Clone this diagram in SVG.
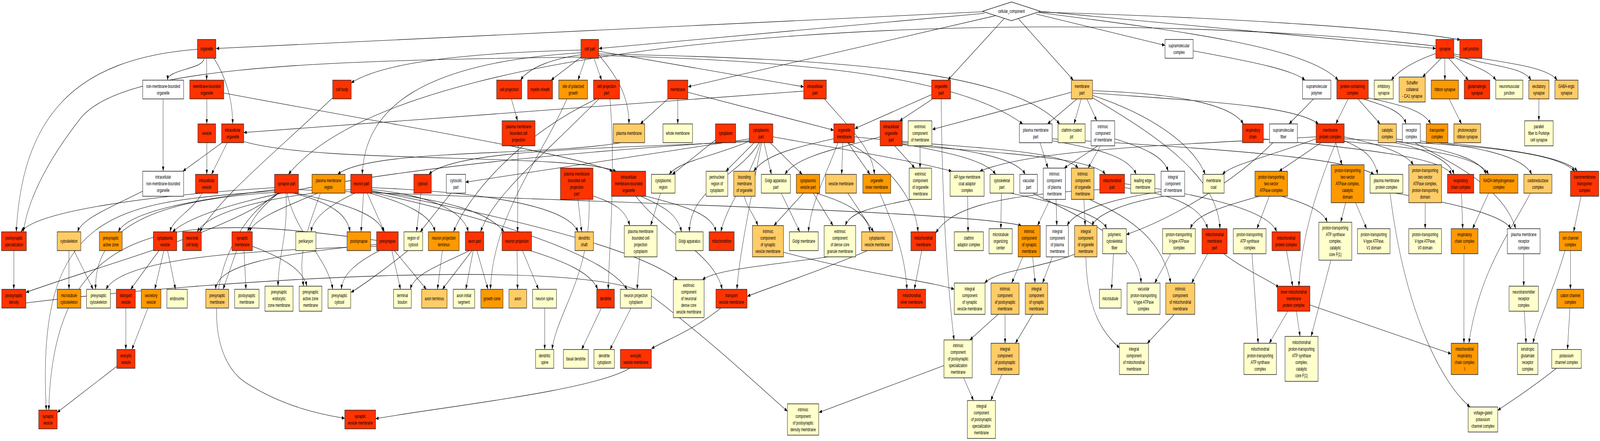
<svg xmlns="http://www.w3.org/2000/svg" width="6492" height="1128" viewBox="0 0 6492 1128" preserveAspectRatio="none" style="display:block;width:100vw;height:100vh">
<defs>
<style>
text{font-family:"Liberation Sans",Arial,sans-serif;font-size:12.5px;text-anchor:middle;fill:#000}
.n rect,.n polygon{stroke:#222;stroke-width:1.5}
.R rect{fill:#ff3300}.O rect{fill:#ff9900}.L rect{fill:#ffcc66}.Y rect{fill:#ffffcc}.W rect,.W polygon{fill:#ffffff}
#edges path{fill:none;stroke:#000;stroke-width:1.1;marker-end:url(#ah)}
</style>
<marker id="ah" viewBox="0 0 12 9" refX="12" refY="4.5" markerWidth="12" markerHeight="9" markerUnits="userSpaceOnUse" orient="auto"><path d="M0,0L12,4.5L0,9z" fill="#000"/></marker>
</defs>
<rect width="6492" height="1128" fill="#fff"/>
<g id="edges">
<path d="M3988,30 L877,124"/>
<path d="M3995,34 L2430,124"/>
<path d="M4040,40 L2792,222"/>
<path d="M4075,47 L3846,205"/>
<path d="M4131,47 L4355,205"/>
<path d="M4205,36 L4727,116"/>
<path d="M4215,32 C4800,80 5300,120 5430,205"/>
<path d="M4222,29 L5826,124"/>
<path d="M4215,31 C5000,45 5700,75 5925,102"/>
<path d="M828,149 C828,177 680,177 680,205"/>
<path d="M838.5,149 L838.5,205"/>
<path d="M868,149 C920,200 944,260 944,317"/>
<path d="M801,126 C300,150 90,300 66,593"/>
<path d="M839,253 L839,317"/>
<path d="M908,238 C1600,320 2300,390 2486,438"/>
<path d="M662,253 L662,438"/>
<path d="M901,365 L742,438"/>
<path d="M922,365 L858,446"/>
<path d="M989,362 C1300,420 2300,390 2500,438"/>
<path d="M3261,233 L989,339"/>
<path d="M839,365 L839,446"/>
<path d="M2357,128 C1900,135 1550,160 1425,212"/>
<path d="M2357,140 C2250,150 2150,170 2112,205"/>
<path d="M2360,145 L2236,205"/>
<path d="M2376,149 L2345,205"/>
<path d="M2410,149 L2441,205"/>
<path d="M2429,131 L3261,222"/>
<path d="M2429,140 C2510,200 2552,250 2552,317"/>
<path d="M2357,135 C1700,160 1480,280 1470,446"/>
<path d="M2357,146 C1200,155 500,175 330,300 C180,420 110,520 95,593"/>
<path d="M2429,142 C3300,155 3900,200 4150,317"/>
<path d="M2429,138 C3400,150 4100,180 4300,317"/>
<path d="M2075,253 L2100,309"/>
<path d="M5826,118 C4500,20 1700,40 1170,446"/>
<path d="M5826,137 C5720,160 5670,185 5645,205"/>
<path d="M5848,149 L5772,197"/>
<path d="M5862.5,149 L5862.5,205"/>
<path d="M5878,149 L5958,205"/>
<path d="M5899,146 C5980,170 6040,180 6070,205"/>
<path d="M5899,142 C6050,170 6180,170 6212,205"/>
<path d="M5899,138 C6100,160 6280,170 6318,205"/>
<path d="M2710,253 L2598,317"/>
<path d="M2750,253 L2750,317"/>
<path d="M2791,236 C3100,285 3300,320 3383,333"/>
<path d="M3780,242 L3468,329"/>
<path d="M3782,254 L3650,309"/>
<path d="M3819,253 C3822,500 3840,700 3871,870"/>
<path d="M4347,236 L3783,331"/>
<path d="M4370,253 L4250,317"/>
<path d="M4387,253 L4358,317"/>
<path d="M4410,253 L4450,309"/>
<path d="M4433,232 C4800,240 5000,270 5045,317"/>
<path d="M4433,238 C4900,260 5250,270 5350,317"/>
<path d="M4433,244 C4700,300 4850,380 4890,446"/>
<path d="M4433,250 C4700,350 4940,450 4950,585"/>
<path d="M4841,130 C5100,160 5250,180 5295,205"/>
<path d="M5330,253 L5230,317"/>
<path d="M5470,253 L5420,317"/>
<path d="M5510,253 L5600,317"/>
<path d="M5530,253 C5620,270 5690,285 5705,317"/>
<path d="M5548,250 C5700,270 5780,285 5805,317"/>
<path d="M5880,253 L5930,317"/>
<path d="M6244,253 L6244,309"/>
<path d="M2520,365 C2200,400 1500,380 1370,446"/>
<path d="M3045,362 C2500,380 1850,380 1740,446"/>
<path d="M3042,355 L1889,466"/>
<path d="M2903,358 L2728,446"/>
<path d="M3045,360 C2900,400 2760,410 2715,446"/>
<path d="M3060,365 L2945,438"/>
<path d="M3100,365 L3130,446"/>
<path d="M3125,365 L3255,446"/>
<path d="M3136,350 C3400,380 3700,410 3862,438"/>
<path d="M3420,365 L3415,446"/>
<path d="M3440,365 L3530,446"/>
<path d="M3383,355 C3200,380 3100,400 3058,438"/>
<path d="M3467,350 C3900,380 4300,380 4375,430"/>
<path d="M3630,373 L3712,430"/>
<path d="M3733,373 L3733,430"/>
<path d="M3661,368 C3850,390 4000,410 4040,446"/>
<path d="M3661,365 C3900,380 4120,400 4160,446"/>
<path d="M3571,350 C3400,380 3230,400 3185,446"/>
<path d="M3661,370 C4000,390 4430,400 4485,446"/>
<path d="M3345,253 C3450,330 3540,380 3548,446"/>
<path d="M4220,365 L4252,430"/>
<path d="M4455,373 L4318,430"/>
<path d="M4465,373 L4415,430"/>
<path d="M4523,355 C4650,380 4720,400 4740,438"/>
<path d="M4269,360 C4450,380 4580,400 4610,446"/>
<path d="M4269,355 C4900,380 5450,400 5575,446"/>
<path d="M5340,355 C5150,400 5000,420 4960,446"/>
<path d="M5360,365 L5190,438"/>
<path d="M5420,365 L5445,421.5"/>
<path d="M5454,360 C5530,380 5575,400 5590,446"/>
<path d="M5454,350 C5600,370 5700,390 5735,421.5"/>
<path d="M5340,350 C4800,370 4200,380 3975,438"/>
<path d="M5454,362 C5800,380 6000,400 6040,446"/>
<path d="M5454,355 C5900,370 6300,380 6390,438"/>
<path d="M5660,365 C5780,380 5880,410 5900,446"/>
<path d="M5126,355 C5500,380 5850,400 5890,446"/>
<path d="M5666,362 C5900,385 6010,410 6030,446"/>
<path d="M5666,356 C6000,370 6180,400 6215,446"/>
<path d="M5860,365 C6100,380 6350,400 6400,438"/>
<path d="M5740,365 C5900,420 6100,480 6150,585"/>
<path d="M579,489 C450,530 330,560 315,593"/>
<path d="M820,494 C780,540 700,560 690,593"/>
<path d="M3040,360 C2000,400 900,480 700,593"/>
<path d="M1114,480 C600,500 150,540 85,593"/>
<path d="M1114,485 C800,510 520,540 480,593"/>
<path d="M1130,494 C1060,530 1020,560 1005,593"/>
<path d="M1290,494 C1150,530 1030,560 1012,593"/>
<path d="M1200,494 C1400,520 1540,550 1555,593"/>
<path d="M1490,494 L1560,593"/>
<path d="M1190,494 C1350,520 1410,550 1420,593"/>
<path d="M1475,494 L1465,593"/>
<path d="M1160,494 C1170,600 1130,650 1128,732"/>
<path d="M1165,494 C1200,600 1330,660 1350,740"/>
<path d="M1130,494 C900,600 400,680 105,748"/>
<path d="M1211,485 C2500,520 3900,540 4145,577"/>
<path d="M1130,494 C850,600 800,900 1000,980 C1150,1040 1300,1060 1399,1070"/>
<path d="M1114,488 C500,520 140,520 188,1049"/>
<path d="M1350,250 C1100,400 900,500 810,593"/>
<path d="M1423,485 C1100,500 850,540 800,593"/>
<path d="M1440,494 C1320,530 1270,560 1262,593"/>
<path d="M1500,494 C1650,520 1750,550 1765,593"/>
<path d="M2420,253 C2100,350 1900,500 1840,593"/>
<path d="M1509,485 C1750,500 1880,540 1900,593"/>
<path d="M2430,253 C2200,400 2000,500 1950,593"/>
<path d="M2102,373 L2100,593"/>
<path d="M1509,490 C1800,510 1980,540 2045,593"/>
<path d="M1708,494 L1690,593"/>
<path d="M1830,494 L1705,593"/>
<path d="M2300,253 C2200,400 2000,550 1990,740"/>
<path d="M2345,510 L2360,593"/>
<path d="M1509,480 C1900,490 2300,520 2345,593"/>
<path d="M2400,500 C2500,520 2540,540 2555,577"/>
<path d="M2680,494 L2640,577"/>
<path d="M2600,502 C2700,530 2750,550 2765,593"/>
<path d="M3080,365 C3000,450 2800,480 2797,593"/>
<path d="M2610,500 C2800,530 2890,550 2905,593"/>
<path d="M3085,365 C3050,450 2950,520 2925,593"/>
<path d="M3260,494 L3140,577"/>
<path d="M3020,502 C3030,530 3060,550 3075,577"/>
<path d="M3170,494 L3245,593"/>
<path d="M3400,365 C3350,450 3290,520 3280,593"/>
<path d="M3700,510 C3550,530 3450,540 3430,577"/>
<path d="M3300,494 L3380,577"/>
<path d="M3310,494 C3450,520 3520,550 3530,593"/>
<path d="M3440,494 L3545,593"/>
<path d="M3440,365 C3600,420 3710,500 3725,593"/>
<path d="M4462,485 C4000,500 3850,540 3797,596"/>
<path d="M3926,502 L3928,593"/>
<path d="M4063,494 L4061,585"/>
<path d="M4260,510 L4210,577"/>
<path d="M4285,510 L4288,577"/>
<path d="M4711,490 C4500,510 4360,540 4330,577"/>
<path d="M4398,510 L4403,577"/>
<path d="M4720,502 C4550,520 4450,550 4430,577"/>
<path d="M4100,494 C4300,520 4470,550 4490,585"/>
<path d="M5165,365 C5000,470 4750,560 4570,600"/>
<path d="M5110,502 C4950,530 4850,550 4830,585"/>
<path d="M4563,480 C4800,500 4880,540 4900,585"/>
<path d="M5150,502 L5100,585"/>
<path d="M4563,470 C4900,500 5150,540 5180,593"/>
<path d="M5460,518.5 L5440,568.5"/>
<path d="M5200,502 C5300,520 5370,540 5385,568.5"/>
<path d="M5500,518 L5545,585"/>
<path d="M5782.5,518.5 L5782.5,585"/>
<path d="M5930,494 L5935,585"/>
<path d="M6040,494 L5975,585"/>
<path d="M5660,494 C5900,520 6100,550 6130,585"/>
<path d="M6415,502 L6385,593"/>
<path d="M56,641 L56,740"/>
<path d="M280,641 L280,740"/>
<path d="M300,641 L378,740"/>
<path d="M1114,492 C700,510 380,560 388,740"/>
<path d="M1528,630 C1000,640 500,660 430,740"/>
<path d="M645,641 L530,740"/>
<path d="M665,641 L628,740"/>
<path d="M680,641 L712,740"/>
<path d="M960,641 L905,740"/>
<path d="M990,641 L998,740"/>
<path d="M1528,625 C1100,650 880,680 875,740"/>
<path d="M1024,630 C1150,660 1230,690 1245,732"/>
<path d="M1300,494 C1240,600 1210,650 1232,732"/>
<path d="M1655,641 C1560,690 1470,730 1424,748"/>
<path d="M1540,641 C1450,670 1390,700 1385,740"/>
<path d="M1590,641 L1625,740"/>
<path d="M1905,641 C1780,680 1680,700 1665,740"/>
<path d="M1600,641 L1730,740"/>
<path d="M1795,641 L1775,740"/>
<path d="M1915,641 L1795,740"/>
<path d="M1920,641 L1890,740"/>
<path d="M1935,641 L1980,740"/>
<path d="M2098,641 L2100,740"/>
<path d="M2120,641 L2185,740"/>
<path d="M2150,641 C2300,670 2400,700 2425,740"/>
<path d="M2475,253 C2500,450 2470,650 2468,740"/>
<path d="M2595,657 L2585,740"/>
<path d="M1509,492 C2000,560 2450,650 2545,740"/>
<path d="M3360,657 C3100,680 2900,690 2850,716"/>
<path d="M1509,488 C2100,560 2600,640 2750,716"/>
<path d="M3520,641 C3300,700 3100,740 3032,758"/>
<path d="M3090,365 C3050,500 3000,650 2990,740"/>
<path d="M2580,502 C2700,600 2900,650 2930,740"/>
<path d="M3740,641 L3710,740"/>
<path d="M3570,494 C3640,600 3670,650 3680,740"/>
<path d="M3179,645 C3500,700 3780,720 3872,740"/>
<path d="M4362,650 C4200,690 4050,690 3995,724"/>
<path d="M4150,657 L4105,724"/>
<path d="M4190,657 L4200,724"/>
<path d="M4270,657 L4230,724"/>
<path d="M4518,649 L4510,740"/>
<path d="M4750,649 L4685,724"/>
<path d="M4190,494 C4400,560 4620,620 4630,724"/>
<path d="M4900,649 L4835,724"/>
<path d="M4420,510 C4600,560 4720,620 4750,724"/>
<path d="M4965,649 C5050,690 5130,710 5190,735"/>
<path d="M5220,641 L5245,732"/>
<path d="M5420,365 C5330,500 5280,620 5270,732"/>
<path d="M6372,641 L6372,740"/>
<path d="M6182.5,649 L6182.5,732"/>
<path d="M2390,510 C2400,700 2260,800 2240,894"/>
<path d="M2210,788 L2210,894"/>
<path d="M2440,788 L2360,894"/>
<path d="M2560,788 L2475,894"/>
<path d="M2925,788 C2800,850 2700,870 2643,892"/>
<path d="M2555,942 C2400,1000 1800,1040 1524,1071"/>
<path d="M510.5,788 L510.5,894"/>
<path d="M600,788 L535,894"/>
<path d="M478,935 L232,1055"/>
<path d="M1530,615 C700,540 215,560 198,1049"/>
<path d="M4050,804 L3935,869.5"/>
<path d="M4078,804 L4078,878"/>
<path d="M4190,804 L4120,878"/>
<path d="M3910,966.5 L3950,1024.5"/>
<path d="M4065,958 L4020,1024.5"/>
<path d="M3830,935 L3323,1055"/>
<path d="M105,775 C800,720 2400,650 2650,760 C2900,880 3100,1000 3195,1052"/>
<path d="M5225,796 L5150,878"/>
<path d="M5080,649 L5105,878"/>
<path d="M5260,796 L5275,860.5"/>
<path d="M5400,665.5 L5320,860.5"/>
<path d="M4406,657 C4410,790 4470,850 4543,890"/>
<path d="M4765,804 L4655,878"/>
<path d="M5315,780 L5888,905"/>
<path d="M5940,649 L5940,878"/>
<path d="M6210,494 C6120,600 6000,700 5960,878"/>
<path d="M6185,796 L6192,878"/>
<path d="M6350,641 C6300,750 6240,820 6220,878"/>
<path d="M6370,788 L6360,894"/>
<path d="M6315,942 C6200,1000 6120,1030 6077,1050"/>
<path d="M5640,494 C5700,800 5850,980 5965,1041"/>
</g>
<g id="nodes">
<g id="n-cellular_component" class="n W"><polygon points="3986,29 4104,5 4222,29 4104,53"/><text x="4104" y="33.5">cellular_component</text></g>
<g id="n-organelle" class="n R"><rect x="801" y="101" width="75" height="48"/><text x="838.5" y="129.5">organelle</text></g>
<g id="n-cell-part" class="n R"><rect x="2357" y="101" width="72" height="48"/><text x="2393" y="129.5">cell part</text></g>
<g id="n-supramolecular-complex" class="n W"><rect x="4727" y="101" width="114" height="48"/><text x="4784" y="121">supramolecular<tspan x="4784" dy="17">complex</tspan></text></g>
<g id="n-synapse" class="n R"><rect x="5826" y="101" width="73" height="48"/><text x="5862.5" y="129.5">synapse</text></g>
<g id="n-cell-junction" class="n R"><rect x="5923" y="101" width="90" height="48"/><text x="5968" y="129.5">cell junction</text></g>

<g id="n-non-membrane-bounded-organelle" class="n W"><rect x="579" y="205" width="166" height="48"/><text x="662" y="225">non-membrane-bounded<tspan x="662" dy="17">organelle</tspan></text></g>
<g id="n-membrane-bounded-organelle" class="n R"><rect x="770" y="205" width="138" height="48"/><text x="839" y="225">membrane-bounded<tspan x="839" dy="17">organelle</tspan></text></g>
<g id="n-cell-body" class="n R"><rect x="1350" y="205" width="75" height="48"/><text x="1387.5" y="233.5">cell body</text></g>
<g id="n-cell-projection" class="n R"><rect x="2015" y="205" width="102" height="48"/><text x="2066" y="233.5">cell projection</text></g>
<g id="n-myelin-sheath" class="n R"><rect x="2141" y="205" width="101" height="48"/><text x="2191.5" y="233.5">myelin sheath</text></g>
<g id="n-site-of-polarized-growth" class="n O"><rect x="2267" y="205" width="117" height="48"/><text x="2325.5" y="225">site of polarized<tspan x="2325.5" dy="17">growth</tspan></text></g>
<g id="n-cell-projection-part" class="n R"><rect x="2408" y="205" width="106" height="48"/><text x="2461" y="225">cell projection<tspan x="2461" dy="17">part</tspan></text></g>
<g id="n-membrane" class="n R"><rect x="2709" y="205" width="82" height="48"/><text x="2750" y="233.5">membrane</text></g>
<g id="n-intracellular-part" class="n R"><rect x="3261" y="205" width="92" height="48"/><text x="3307" y="225">intracellular<tspan x="3307" dy="17">part</tspan></text></g>
<g id="n-organelle-part" class="n R"><rect x="3780" y="205" width="77" height="48"/><text x="3818.5" y="225">organelle<tspan x="3818.5" dy="17">part</tspan></text></g>
<g id="n-membrane-part" class="n L"><rect x="4347" y="205" width="86" height="48"/><text x="4390" y="225">membrane<tspan x="4390" dy="17">part</tspan></text></g>
<g id="n-supramolecular-polymer" class="n W"><rect x="5285" y="205" width="115" height="48"/><text x="5342.5" y="225">supramolecular<tspan x="5342.5" dy="17">polymer</tspan></text></g>
<g id="n-protein-containing-complex" class="n R"><rect x="5424" y="205" width="128" height="48"/><text x="5488" y="225">protein-containing<tspan x="5488" dy="17">complex</tspan></text></g>
<g id="n-inhibitory-synapse" class="n Y"><rect x="5576" y="205" width="77" height="48"/><text x="5614.5" y="225">inhibitory<tspan x="5614.5" dy="17">synapse</tspan></text></g>
<g id="n-schaffer-collateral" class="n L"><rect x="5677" y="197" width="106" height="64"/><text x="5730" y="216.5">Schaffer<tspan x="5730" dy="17">collateral</tspan><tspan x="5730" dy="17">- CA1 synapse</tspan></text></g>
<g id="n-ribbon-synapse" class="n O"><rect x="5807" y="205" width="111" height="48"/><text x="5862.5" y="233.5">ribbon synapse</text></g>
<g id="n-glutamatergic-synapse" class="n R"><rect x="5941" y="205" width="104" height="48"/><text x="5993" y="225">glutamatergic<tspan x="5993" dy="17">synapse</tspan></text></g>
<g id="n-neuromuscular-junction" class="n Y"><rect x="6069" y="205" width="110" height="48"/><text x="6124" y="225">neuromuscular<tspan x="6124" dy="17">junction</tspan></text></g>
<g id="n-excitatory-synapse" class="n L"><rect x="6203" y="205" width="82" height="48"/><text x="6244" y="225">excitatory<tspan x="6244" dy="17">synapse</tspan></text></g>
<g id="n-gaba-ergic-synapse" class="n L"><rect x="6309" y="205" width="94" height="48"/><text x="6356" y="225">GABA-ergic<tspan x="6356" dy="17">synapse</tspan></text></g>

<g id="n-vesicle" class="n R"><rect x="803" y="317" width="72" height="48"/><text x="839" y="345.5">vesicle</text></g>
<g id="n-intracellular-organelle" class="n R"><rect x="899" y="317" width="90" height="48"/><text x="944" y="337">intracellular<tspan x="944" dy="17">organelle</tspan></text></g>
<g id="n-pm-bounded-cell-projection" class="n R"><rect x="2037" y="309" width="134" height="64"/><text x="2104" y="328.5">plasma membrane<tspan x="2104" dy="17">bounded cell</tspan><tspan x="2104" dy="17">projection</tspan></text></g>
<g id="n-plasma-membrane" class="n L"><rect x="2488" y="317" width="128" height="48"/><text x="2552" y="345.5">plasma membrane</text></g>
<g id="n-whole-membrane" class="n Y"><rect x="2690" y="317" width="120" height="48"/><text x="2750" y="345.5">whole membrane</text></g>
<g id="n-cytoplasm" class="n R"><rect x="2903" y="317" width="82" height="48"/><text x="2944" y="345.5">cytoplasm</text></g>
<g id="n-cytoplasmic-part" class="n R"><rect x="3040" y="317" width="96" height="48"/><text x="3088" y="337">cytoplasmic<tspan x="3088" dy="17">part</tspan></text></g>
<g id="n-organelle-membrane" class="n R"><rect x="3383" y="317" width="84" height="48"/><text x="3425" y="337">organelle<tspan x="3425" dy="17">membrane</tspan></text></g>
<g id="n-intracellular-organelle-part" class="n R"><rect x="3571" y="309" width="90" height="64"/><text x="3616" y="328.5">intracellular<tspan x="3616" dy="17">organelle</tspan><tspan x="3616" dy="17">part</tspan></text></g>
<g id="n-extrinsic-component-of-membrane" class="n Y"><rect x="3685" y="309" width="96" height="64"/><text x="3733" y="328.5">extrinsic<tspan x="3733" dy="17">component</tspan><tspan x="3733" dy="17">of membrane</tspan></text></g>
<g id="n-plasma-membrane-part" class="n W"><rect x="4136" y="317" width="133" height="48"/><text x="4202.5" y="337">plasma membrane<tspan x="4202.5" dy="17">part</tspan></text></g>
<g id="n-clathrin-coated-pit" class="n Y"><rect x="4293" y="317" width="110" height="48"/><text x="4348" y="337">clathrin-coated<tspan x="4348" dy="17">pit</tspan></text></g>
<g id="n-intrinsic-component-of-membrane" class="n W"><rect x="4427" y="309" width="96" height="64"/><text x="4475" y="328.5">intrinsic<tspan x="4475" dy="17">component</tspan><tspan x="4475" dy="17">of membrane</tspan></text></g>
<g id="n-respiratory-chain" class="n R"><rect x="5041" y="317" width="85" height="48"/><text x="5083.5" y="337">respiratory<tspan x="5083.5" dy="17">chain</tspan></text></g>
<g id="n-supramolecular-fiber" class="n W"><rect x="5151" y="317" width="113" height="48"/><text x="5207.5" y="337">supramolecular<tspan x="5207.5" dy="17">fiber</tspan></text></g>
<g id="n-membrane-protein-complex" class="n R"><rect x="5340" y="317" width="114" height="48"/><text x="5397" y="337">membrane<tspan x="5397" dy="17">protein complex</tspan></text></g>
<g id="n-catalytic-complex" class="n L"><rect x="5592" y="317" width="74" height="48"/><text x="5629" y="337">catalytic<tspan x="5629" dy="17">complex</tspan></text></g>
<g id="n-receptor-complex" class="n W"><rect x="5690" y="317" width="73" height="48"/><text x="5726.5" y="337">receptor<tspan x="5726.5" dy="17">complex</tspan></text></g>
<g id="n-transporter-complex" class="n O"><rect x="5787" y="317" width="88" height="48"/><text x="5831" y="337">transporter<tspan x="5831" dy="17">complex</tspan></text></g>
<g id="n-photoreceptor-ribbon-synapse" class="n L"><rect x="5899" y="317" width="109" height="48"/><text x="5953.5" y="337">photoreceptor<tspan x="5953.5" dy="17">ribbon synapse</tspan></text></g>
<g id="n-parallel-fiber-to-purkinje-cell-synapse" class="n Y"><rect x="6186" y="309" width="116" height="64"/><text x="6244" y="328.5">parallel<tspan x="6244" dy="17">fiber to Purkinje</tspan><tspan x="6244" dy="17">cell synapse</tspan></text></g>

<g id="n-intracellular-nmbo" class="n W"><rect x="579" y="438" width="166" height="64"/><text x="662" y="457.5">intracellular<tspan x="662" dy="17">non-membrane-bounded</tspan><tspan x="662" dy="17">organelle</tspan></text></g>
<g id="n-intracellular-vesicle" class="n R"><rect x="793" y="446" width="91" height="48"/><text x="838.5" y="466">intracellular<tspan x="838.5" dy="17">vesicle</tspan></text></g>
<g id="n-synapse-part" class="n R"><rect x="1114" y="446" width="97" height="48"/><text x="1162.5" y="474.5">synapse part</text></g>
<g id="n-plasma-membrane-region" class="n O"><rect x="1266" y="446" width="134" height="48"/><text x="1333" y="466">plasma membrane<tspan x="1333" dy="17">region</tspan></text></g>
<g id="n-neuron-part" class="n R"><rect x="1423" y="446" width="86" height="48"/><text x="1466" y="474.5">neuron part</text></g>
<g id="n-cytosol" class="n R"><rect x="1679" y="446" width="71" height="48"/><text x="1714.5" y="474.5">cytosol</text></g>
<g id="n-cytosolic-part" class="n W"><rect x="1811" y="446" width="78" height="48"/><text x="1850" y="466">cytosolic<tspan x="1850" dy="17">part</tspan></text></g>
<g id="n-pm-bounded-cell-projection-part" class="n R"><rect x="2274" y="430" width="132" height="80"/><text x="2340" y="449">plasma membrane<tspan x="2340" dy="17">bounded cell</tspan><tspan x="2340" dy="17">projection</tspan><tspan x="2340" dy="17">part</tspan></text></g>
<g id="n-intracellular-mbo" class="n R"><rect x="2481" y="438" width="139" height="64"/><text x="2550.5" y="457.5">intracellular<tspan x="2550.5" dy="17">membrane-bounded</tspan><tspan x="2550.5" dy="17">organelle</tspan></text></g>
<g id="n-cytoplasmic-region" class="n Y"><rect x="2643" y="446" width="96" height="48"/><text x="2691" y="466">cytoplasmic<tspan x="2691" dy="17">region</tspan></text></g>
<g id="n-perinuclear-region-of-cytoplasm" class="n Y"><rect x="2865" y="438" width="88" height="64"/><text x="2909" y="457.5">perinuclear<tspan x="2909" dy="17">region of</tspan><tspan x="2909" dy="17">cytoplasm</tspan></text></g>
<g id="n-bounding-membrane-of-organelle" class="n L"><rect x="2977" y="438" width="87" height="64"/><text x="3020.5" y="457.5">bounding<tspan x="3020.5" dy="17">membrane</tspan><tspan x="3020.5" dy="17">of organelle</tspan></text></g>
<g id="n-golgi-apparatus-part" class="n Y"><rect x="3089" y="446" width="118" height="48"/><text x="3148" y="466">Golgi apparatus<tspan x="3148" dy="17">part</tspan></text></g>
<g id="n-cytoplasmic-vesicle-part" class="n O"><rect x="3231" y="446" width="95" height="48"/><text x="3278.5" y="466">cytoplasmic<tspan x="3278.5" dy="17">vesicle part</tspan></text></g>
<g id="n-vesicle-membrane" class="n L"><rect x="3350" y="446" width="125" height="48"/><text x="3412.5" y="474.5">vesicle membrane</text></g>
<g id="n-organelle-inner-membrane" class="n O"><rect x="3501" y="446" width="113" height="48"/><text x="3557.5" y="466">organelle<tspan x="3557.5" dy="17">inner membrane</tspan></text></g>
<g id="n-extrinsic-component-of-organelle-membrane" class="n Y"><rect x="3689" y="430" width="91" height="80"/><text x="3734.5" y="449">extrinsic<tspan x="3734.5" dy="17">component</tspan><tspan x="3734.5" dy="17">of organelle</tspan><tspan x="3734.5" dy="17">membrane</tspan></text></g>
<g id="n-ap-type-membrane-coat-adaptor-complex" class="n Y"><rect x="3855" y="438" width="138" height="64"/><text x="3924" y="457.5">AP-type membrane<tspan x="3924" dy="17">coat adaptor</tspan><tspan x="3924" dy="17">complex</tspan></text></g>
<g id="n-cytoskeletal-part" class="n Y"><rect x="4017" y="446" width="96" height="48"/><text x="4065" y="466">cytoskeletal<tspan x="4065" dy="17">part</tspan></text></g>
<g id="n-vacuolar-part" class="n W"><rect x="4138" y="446" width="71" height="48"/><text x="4173.5" y="466">vacuolar<tspan x="4173.5" dy="17">part</tspan></text></g>
<g id="n-intrinsic-component-of-plasma-membrane" class="n W"><rect x="4233" y="430" width="90" height="80"/><text x="4278" y="449">intrinsic<tspan x="4278" dy="17">component</tspan><tspan x="4278" dy="17">of plasma</tspan><tspan x="4278" dy="17">membrane</tspan></text></g>
<g id="n-intrinsic-component-of-organelle-membrane" class="n L"><rect x="4347" y="430" width="92" height="80"/><text x="4393" y="449">intrinsic<tspan x="4393" dy="17">component</tspan><tspan x="4393" dy="17">of organelle</tspan><tspan x="4393" dy="17">membrane</tspan></text></g>
<g id="n-mitochondrial-part" class="n R"><rect x="4462" y="446" width="101" height="48"/><text x="4512.5" y="466">mitochondrial<tspan x="4512.5" dy="17">part</tspan></text></g>
<g id="n-leading-edge-membrane" class="n Y"><rect x="4588" y="446" width="98" height="48"/><text x="4637" y="466">leading edge<tspan x="4637" dy="17">membrane</tspan></text></g>
<g id="n-integral-component-of-membrane" class="n W"><rect x="4711" y="438" width="96" height="64"/><text x="4759" y="457.5">integral<tspan x="4759" dy="17">component</tspan><tspan x="4759" dy="17">of membrane</tspan></text></g>
<g id="n-membrane-coat" class="n Y"><rect x="4881" y="446" width="86" height="48"/><text x="4924" y="466">membrane<tspan x="4924" dy="17">coat</tspan></text></g>
<g id="n-pt-two-sector-atpase-complex" class="n O"><rect x="5092" y="438" width="132" height="64"/><text x="5158" y="457.5">proton-transporting<tspan x="5158" dy="17">two-sector</tspan><tspan x="5158" dy="17">ATPase complex</tspan></text></g>
<g id="n-pt-two-sector-atpase-catalytic-domain" class="n O"><rect x="5401" y="421.5" width="134" height="97"/><text x="5468" y="440.5">proton-transporting<tspan x="5468" dy="17">two-sector</tspan><tspan x="5468" dy="17">ATPase complex,</tspan><tspan x="5468" dy="17">catalytic</tspan><tspan x="5468" dy="17">domain</tspan></text></g>
<g id="n-plasma-membrane-protein-complex" class="n Y"><rect x="5559" y="446" width="133" height="48"/><text x="5625.5" y="466">plasma membrane<tspan x="5625.5" dy="17">protein complex</tspan></text></g>
<g id="n-pt-two-sector-atpase-pt-domain" class="n L"><rect x="5716" y="421.5" width="133" height="97"/><text x="5782.5" y="440.5">proton-transporting<tspan x="5782.5" dy="17">two-sector</tspan><tspan x="5782.5" dy="17">ATPase complex,</tspan><tspan x="5782.5" dy="17">proton-transporting</tspan><tspan x="5782.5" dy="17">domain</tspan></text></g>
<g id="n-respiratory-chain-complex" class="n R"><rect x="5873" y="446" width="107" height="48"/><text x="5926.5" y="466">respiratory<tspan x="5926.5" dy="17">chain complex</tspan></text></g>
<g id="n-nadh-dehydrogenase-complex" class="n O"><rect x="6004" y="446" width="155" height="48"/><text x="6081.5" y="466">NADH dehydrogenase<tspan x="6081.5" dy="17">complex</tspan></text></g>
<g id="n-oxidoreductase-complex" class="n L"><rect x="6183" y="446" width="114" height="48"/><text x="6240" y="466">oxidoreductase<tspan x="6240" dy="17">complex</tspan></text></g>
<g id="n-transmembrane-transporter-complex" class="n R"><rect x="6372" y="438" width="115" height="64"/><text x="6429.5" y="457.5">transmembrane<tspan x="6429.5" dy="17">transporter</tspan><tspan x="6429.5" dy="17">complex</tspan></text></g>

<g id="n-postsynaptic-specialization" class="n R"><rect x="6" y="593" width="101" height="48"/><text x="56.5" y="613">postsynaptic<tspan x="56.5" dy="17">specialization</tspan></text></g>
<g id="n-cytoskeleton" class="n L"><rect x="232" y="593" width="96" height="48"/><text x="280" y="621.5">cytoskeleton</text></g>
<g id="n-presynaptic-active-zone" class="n O"><rect x="403" y="593" width="93" height="48"/><text x="449.5" y="613">presynaptic<tspan x="449.5" dy="17">active zone</tspan></text></g>
<g id="n-cytoplasmic-vesicle" class="n R"><rect x="622" y="593" width="95" height="48"/><text x="669.5" y="613">cytoplasmic<tspan x="669.5" dy="17">vesicle</tspan></text></g>
<g id="n-neuronal-cell-body" class="n R"><rect x="741" y="593" width="76" height="48"/><text x="779" y="613">neuronal<tspan x="779" dy="17">cell body</tspan></text></g>
<g id="n-synaptic-membrane" class="n R"><rect x="941" y="593" width="83" height="48"/><text x="982.5" y="613">synaptic<tspan x="982.5" dy="17">membrane</tspan></text></g>
<g id="n-perikaryon" class="n Y"><rect x="1200" y="593" width="82" height="48"/><text x="1241" y="621.5">perikaryon</text></g>
<g id="n-postsynapse" class="n O"><rect x="1408" y="593" width="96" height="48"/><text x="1456" y="621.5">postsynapse</text></g>
<g id="n-presynapse" class="n R"><rect x="1528" y="593" width="88" height="48"/><text x="1572" y="621.5">presynapse</text></g>
<g id="n-region-of-cytosol" class="n Y"><rect x="1639" y="593" width="76" height="48"/><text x="1677" y="613">region of<tspan x="1677" dy="17">cytosol</tspan></text></g>
<g id="n-neuron-projection-terminus" class="n O"><rect x="1738" y="593" width="125" height="48"/><text x="1800.5" y="613">neuron projection<tspan x="1800.5" dy="17">terminus</tspan></text></g>
<g id="n-axon-part" class="n R"><rect x="1888" y="593" width="75" height="48"/><text x="1925.5" y="621.5">axon part</text></g>
<g id="n-neuron-projection" class="n R"><rect x="2037" y="593" width="120" height="48"/><text x="2097" y="621.5">neuron projection</text></g>
<g id="n-dendritic-shaft" class="n L"><rect x="2333" y="593" width="75" height="48"/><text x="2370.5" y="613">dendritic<tspan x="2370.5" dy="17">shaft</tspan></text></g>
<g id="n-pm-bounded-cell-projection-cytoplasm" class="n Y"><rect x="2533" y="577" width="133" height="80"/><text x="2599.5" y="596">plasma membrane<tspan x="2599.5" dy="17">bounded cell</tspan><tspan x="2599.5" dy="17">projection</tspan><tspan x="2599.5" dy="17">cytoplasm</tspan></text></g>
<g id="n-golgi-apparatus" class="n Y"><rect x="2742" y="593" width="111" height="48"/><text x="2797.5" y="621.5">Golgi apparatus</text></g>
<g id="n-mitochondrion" class="n R"><rect x="2877" y="593" width="102" height="48"/><text x="2928" y="621.5">mitochondrion</text></g>
<g id="n-intrinsic-component-of-synaptic-vesicle-membrane" class="n L"><rect x="3053" y="577" width="126" height="80"/><text x="3116" y="596">intrinsic<tspan x="3116" dy="17">component</tspan><tspan x="3116" dy="17">of synaptic</tspan><tspan x="3116" dy="17">vesicle membrane</tspan></text></g>
<g id="n-golgi-membrane" class="n Y"><rect x="3203" y="593" width="117" height="48"/><text x="3261.5" y="621.5">Golgi membrane</text></g>
<g id="n-extrinsic-component-of-dense-core-granule-membrane" class="n Y"><rect x="3344" y="577" width="128" height="80"/><text x="3408" y="596">extrinsic<tspan x="3408" dy="17">component</tspan><tspan x="3408" dy="17">of dense core</tspan><tspan x="3408" dy="17">granule membrane</tspan></text></g>
<g id="n-cytoplasmic-vesicle-membrane" class="n L"><rect x="3496" y="593" width="125" height="48"/><text x="3558.5" y="613">cytoplasmic<tspan x="3558.5" dy="17">vesicle membrane</tspan></text></g>
<g id="n-mitochondrial-membrane" class="n R"><rect x="3696" y="593" width="101" height="48"/><text x="3746.5" y="613">mitochondrial<tspan x="3746.5" dy="17">membrane</tspan></text></g>
<g id="n-clathrin-adaptor-complex" class="n Y"><rect x="3872" y="593" width="118" height="48"/><text x="3931" y="613">clathrin<tspan x="3931" dy="17">adaptor complex</tspan></text></g>
<g id="n-microtubule-organizing-center" class="n Y"><rect x="4013" y="585" width="94" height="64"/><text x="4060" y="604.5">microtubule<tspan x="4060" dy="17">organizing</tspan><tspan x="4060" dy="17">center</tspan></text></g>
<g id="n-intrinsic-component-of-synaptic-membrane" class="n O"><rect x="4131" y="577" width="90" height="80"/><text x="4176" y="596">intrinsic<tspan x="4176" dy="17">component</tspan><tspan x="4176" dy="17">of synaptic</tspan><tspan x="4176" dy="17">membrane</tspan></text></g>
<g id="n-integral-component-of-plasma-membrane" class="n W"><rect x="4245" y="577" width="90" height="80"/><text x="4290" y="596">integral<tspan x="4290" dy="17">component</tspan><tspan x="4290" dy="17">of plasma</tspan><tspan x="4290" dy="17">membrane</tspan></text></g>
<g id="n-integral-component-of-organelle-membrane" class="n L"><rect x="4360" y="577" width="91" height="80"/><text x="4405.5" y="596">integral<tspan x="4405.5" dy="17">component</tspan><tspan x="4405.5" dy="17">of organelle</tspan><tspan x="4405.5" dy="17">membrane</tspan></text></g>
<g id="n-polymeric-cytoskeletal-fiber" class="n Y"><rect x="4474" y="585" width="96" height="64"/><text x="4522" y="604.5">polymeric<tspan x="4522" dy="17">cytoskeletal</tspan><tspan x="4522" dy="17">fiber</tspan></text></g>
<g id="n-pt-v-type-atpase-complex" class="n Y"><rect x="4717" y="585" width="133" height="64"/><text x="4783.5" y="604.5">proton-transporting<tspan x="4783.5" dy="17">V-type ATPase</tspan><tspan x="4783.5" dy="17">complex</tspan></text></g>
<g id="n-mitochondrial-membrane-part" class="n R"><rect x="4877" y="585" width="102" height="64"/><text x="4928" y="604.5">mitochondrial<tspan x="4928" dy="17">membrane</tspan><tspan x="4928" dy="17">part</tspan></text></g>
<g id="n-pt-atp-synthase-complex" class="n Y"><rect x="5004" y="585" width="133" height="64"/><text x="5070.5" y="604.5">proton-transporting<tspan x="5070.5" dy="17">ATP synthase</tspan><tspan x="5070.5" dy="17">complex</tspan></text></g>
<g id="n-mitochondrial-protein-complex" class="n R"><rect x="5161" y="593" width="115" height="48"/><text x="5218.5" y="613">mitochondrial<tspan x="5218.5" dy="17">protein complex</tspan></text></g>
<g id="n-pt-atp-synthase-catalytic-core-f1" class="n Y"><rect x="5351" y="568.5" width="134" height="97"/><text x="5418" y="587.5">proton-transporting<tspan x="5418" dy="17">ATP synthase</tspan><tspan x="5418" dy="17">complex,</tspan><tspan x="5418" dy="17">catalytic</tspan><tspan x="5418" dy="17">core F(1)</tspan></text></g>
<g id="n-pt-v-type-atpase-v1-domain" class="n Y"><rect x="5508" y="585" width="132" height="64"/><text x="5574" y="604.5">proton-transporting<tspan x="5574" dy="17">V-type ATPase,</tspan><tspan x="5574" dy="17">V1 domain</tspan></text></g>
<g id="n-pt-v-type-atpase-v0-domain" class="n Y"><rect x="5716" y="585" width="133" height="64"/><text x="5782.5" y="604.5">proton-transporting<tspan x="5782.5" dy="17">V-type ATPase,</tspan><tspan x="5782.5" dy="17">V0 domain</tspan></text></g>
<g id="n-respiratory-chain-complex-i" class="n O"><rect x="5888" y="585" width="109" height="64"/><text x="5942.5" y="604.5">respiratory<tspan x="5942.5" dy="17">chain complex</tspan><tspan x="5942.5" dy="17">I</tspan></text></g>
<g id="n-plasma-membrane-receptor-complex" class="n W"><rect x="6116" y="585" width="133" height="64"/><text x="6182.5" y="604.5">plasma membrane<tspan x="6182.5" dy="17">receptor</tspan><tspan x="6182.5" dy="17">complex</tspan></text></g>
<g id="n-ion-channel-complex" class="n O"><rect x="6327" y="593" width="90" height="48"/><text x="6372" y="613">ion channel<tspan x="6372" dy="17">complex</tspan></text></g>

<g id="n-postsynaptic-density" class="n R"><rect x="7" y="740" width="98" height="48"/><text x="56" y="760">postsynaptic<tspan x="56" dy="17">density</tspan></text></g>
<g id="n-microtubule-cytoskeleton" class="n O"><rect x="232" y="740" width="96" height="48"/><text x="280" y="760">microtubule<tspan x="280" dy="17">cytoskeleton</tspan></text></g>
<g id="n-presynaptic-cytoskeleton" class="n Y"><rect x="351" y="740" width="97" height="48"/><text x="399.5" y="760">presynaptic<tspan x="399.5" dy="17">cytoskeleton</tspan></text></g>
<g id="n-transport-vesicle" class="n R"><rect x="472" y="740" width="77" height="48"/><text x="510.5" y="760">transport<tspan x="510.5" dy="17">vesicle</tspan></text></g>
<g id="n-secretory-vesicle" class="n O"><rect x="573" y="740" width="80" height="48"/><text x="613" y="760">secretory<tspan x="613" dy="17">vesicle</tspan></text></g>
<g id="n-endosome" class="n Y"><rect x="677" y="740" width="83" height="48"/><text x="718.5" y="768.5">endosome</text></g>
<g id="n-presynaptic-membrane" class="n L"><rect x="835" y="740" width="93" height="48"/><text x="881.5" y="760">presynaptic<tspan x="881.5" dy="17">membrane</tspan></text></g>
<g id="n-postsynaptic-membrane" class="n Y"><rect x="952" y="740" width="99" height="48"/><text x="1001.5" y="760">postsynaptic<tspan x="1001.5" dy="17">membrane</tspan></text></g>
<g id="n-presynaptic-endocytic-zone-membrane" class="n Y"><rect x="1075" y="732" width="114" height="64"/><text x="1132" y="751.5">presynaptic<tspan x="1132" dy="17">endocytic</tspan><tspan x="1132" dy="17">zone membrane</tspan></text></g>
<g id="n-presynaptic-active-zone-membrane" class="n Y"><rect x="1214" y="732" width="92" height="64"/><text x="1260" y="751.5">presynaptic<tspan x="1260" dy="17">active zone</tspan><tspan x="1260" dy="17">membrane</tspan></text></g>
<g id="n-presynaptic-cytosol" class="n Y"><rect x="1331" y="740" width="92" height="48"/><text x="1377" y="760">presynaptic<tspan x="1377" dy="17">cytosol</tspan></text></g>
<g id="n-terminal-bouton" class="n Y"><rect x="1597" y="740" width="72" height="48"/><text x="1633" y="760">terminal<tspan x="1633" dy="17">bouton</tspan></text></g>
<g id="n-axon-terminus" class="n L"><rect x="1711" y="740" width="103" height="48"/><text x="1762.5" y="768.5">axon terminus</text></g>
<g id="n-axon-initial-segment" class="n Y"><rect x="1839" y="740" width="87" height="48"/><text x="1882.5" y="760">axon initial<tspan x="1882.5" dy="17">segment</tspan></text></g>
<g id="n-growth-cone" class="n O"><rect x="1951" y="740" width="90" height="48"/><text x="1996" y="768.5">growth cone</text></g>
<g id="n-axon" class="n L"><rect x="2065" y="740" width="72" height="48"/><text x="2101" y="768.5">axon</text></g>
<g id="n-neuron-spine" class="n Y"><rect x="2161" y="740" width="97" height="48"/><text x="2209.5" y="768.5">neuron spine</text></g>
<g id="n-dendrite" class="n R"><rect x="2421" y="740" width="72" height="48"/><text x="2457" y="768.5">dendrite</text></g>
<g id="n-neuron-projection-cytoplasm" class="n Y"><rect x="2517" y="740" width="126" height="48"/><text x="2580" y="760">neuron projection<tspan x="2580" dy="17">cytoplasm</tspan></text></g>
<g id="n-extrinsic-component-of-neuronal-dense-core-vesicle-membrane" class="n Y"><rect x="2732" y="715.5" width="125" height="97"/><text x="2794.5" y="734.5">extrinsic<tspan x="2794.5" dy="17">component</tspan><tspan x="2794.5" dy="17">of neuronal</tspan><tspan x="2794.5" dy="17">dense core</tspan><tspan x="2794.5" dy="17">vesicle membrane</tspan></text></g>
<g id="n-transport-vesicle-membrane" class="n R"><rect x="2905" y="740" width="126" height="48"/><text x="2968" y="760">transport<tspan x="2968" dy="17">vesicle membrane</tspan></text></g>
<g id="n-mitochondrial-inner-membrane" class="n R"><rect x="3642" y="740" width="114" height="48"/><text x="3699" y="760">mitochondrial<tspan x="3699" dy="17">inner membrane</tspan></text></g>
<g id="n-integral-component-of-synaptic-vesicle-membrane" class="n Y"><rect x="3872" y="724" width="125" height="80"/><text x="3934.5" y="743">integral<tspan x="3934.5" dy="17">component</tspan><tspan x="3934.5" dy="17">of synaptic</tspan><tspan x="3934.5" dy="17">vesicle membrane</tspan></text></g>
<g id="n-intrinsic-component-of-postsynaptic-membrane" class="n L"><rect x="4021" y="724" width="114" height="80"/><text x="4078" y="743">intrinsic<tspan x="4078" dy="17">component</tspan><tspan x="4078" dy="17">of postsynaptic</tspan><tspan x="4078" dy="17">membrane</tspan></text></g>
<g id="n-integral-component-of-synaptic-membrane" class="n L"><rect x="4160" y="724" width="91" height="80"/><text x="4205.5" y="743">integral<tspan x="4205.5" dy="17">component</tspan><tspan x="4205.5" dy="17">of synaptic</tspan><tspan x="4205.5" dy="17">membrane</tspan></text></g>
<g id="n-microtubule" class="n Y"><rect x="4461" y="740" width="88" height="48"/><text x="4505" y="768.5">microtubule</text></g>
<g id="n-vacuolar-pt-v-type-atpase-complex" class="n Y"><rect x="4573" y="724" width="134" height="80"/><text x="4640" y="743">vacuolar<tspan x="4640" dy="17">proton-transporting</tspan><tspan x="4640" dy="17">V-type ATPase</tspan><tspan x="4640" dy="17">complex</tspan></text></g>
<g id="n-intrinsic-component-of-mitochondrial-membrane" class="n L"><rect x="4730" y="724" width="118" height="80"/><text x="4789" y="743">intrinsic<tspan x="4789" dy="17">component</tspan><tspan x="4789" dy="17">of mitochondrial</tspan><tspan x="4789" dy="17">membrane</tspan></text></g>
<g id="n-inner-mitochondrial-membrane-protein-complex" class="n R"><rect x="5183" y="732" width="132" height="64"/><text x="5249" y="751.5">inner mitochondrial<tspan x="5249" dy="17">membrane</tspan><tspan x="5249" dy="17">protein complex</tspan></text></g>
<g id="n-neurotransmitter-receptor-complex" class="n Y"><rect x="6123" y="732" width="119" height="64"/><text x="6182.5" y="751.5">neurotransmitter<tspan x="6182.5" dy="17">receptor</tspan><tspan x="6182.5" dy="17">complex</tspan></text></g>
<g id="n-cation-channel-complex" class="n O"><rect x="6317" y="740" width="109" height="48"/><text x="6371.5" y="760">cation channel<tspan x="6371.5" dy="17">complex</tspan></text></g>

<g id="n-exocytic-vesicle" class="n R"><rect x="474" y="894" width="74" height="48"/><text x="511" y="914">exocytic<tspan x="511" dy="17">vesicle</tspan></text></g>
<g id="n-dendritic-spine" class="n Y"><rect x="2173" y="894" width="74" height="48"/><text x="2210" y="914">dendritic<tspan x="2210" dy="17">spine</tspan></text></g>
<g id="n-basal-dendrite" class="n Y"><rect x="2286" y="894" width="101" height="48"/><text x="2336.5" y="922.5">basal dendrite</text></g>
<g id="n-dendrite-cytoplasm" class="n Y"><rect x="2410" y="894" width="83" height="48"/><text x="2451.5" y="914">dendrite<tspan x="2451.5" dy="17">cytoplasm</tspan></text></g>
<g id="n-exocytic-vesicle-membrane" class="n R"><rect x="2517" y="894" width="126" height="48"/><text x="2580" y="914">exocytic<tspan x="2580" dy="17">vesicle membrane</tspan></text></g>
<g id="n-intrinsic-component-of-postsynaptic-specialization-membrane" class="n Y"><rect x="3830" y="869.5" width="115" height="97"/><text x="3887.5" y="888.5">intrinsic<tspan x="3887.5" dy="17">component</tspan><tspan x="3887.5" dy="17">of postsynaptic</tspan><tspan x="3887.5" dy="17">specialization</tspan><tspan x="3887.5" dy="17">membrane</tspan></text></g>
<g id="n-integral-component-of-postsynaptic-membrane" class="n L"><rect x="4021" y="878" width="114" height="80"/><text x="4078" y="897">integral<tspan x="4078" dy="17">component</tspan><tspan x="4078" dy="17">of postsynaptic</tspan><tspan x="4078" dy="17">membrane</tspan></text></g>
<g id="n-integral-component-of-mitochondrial-membrane" class="n Y"><rect x="4542" y="878" width="118" height="80"/><text x="4601" y="897">integral<tspan x="4601" dy="17">component</tspan><tspan x="4601" dy="17">of mitochondrial</tspan><tspan x="4601" dy="17">membrane</tspan></text></g>
<g id="n-mitochondrial-pt-atp-synthase-complex" class="n Y"><rect x="5047" y="878" width="132" height="80"/><text x="5113" y="897">mitochondrial<tspan x="5113" dy="17">proton-transporting</tspan><tspan x="5113" dy="17">ATP synthase</tspan><tspan x="5113" dy="17">complex</tspan></text></g>
<g id="n-mitochondrial-pt-atp-synthase-catalytic-core-f1" class="n Y"><rect x="5214" y="860.5" width="134" height="115"/><text x="5281" y="880">mitochondrial<tspan x="5281" dy="17">proton-transporting</tspan><tspan x="5281" dy="17">ATP synthase</tspan><tspan x="5281" dy="17">complex,</tspan><tspan x="5281" dy="17">catalytic</tspan><tspan x="5281" dy="17">core F(1)</tspan></text></g>
<g id="n-mitochondrial-respiratory-chain-complex-i" class="n O"><rect x="5888" y="878" width="109" height="80"/><text x="5942.5" y="897">mitochondrial<tspan x="5942.5" dy="17">respiratory</tspan><tspan x="5942.5" dy="17">chain complex</tspan><tspan x="5942.5" dy="17">I</tspan></text></g>
<g id="n-ionotropic-glutamate-receptor-complex" class="n Y"><rect x="6157" y="878" width="83" height="80"/><text x="6198.5" y="897">ionotropic<tspan x="6198.5" dy="17">glutamate</tspan><tspan x="6198.5" dy="17">receptor</tspan><tspan x="6198.5" dy="17">complex</tspan></text></g>
<g id="n-potassium-channel-complex" class="n Y"><rect x="6296" y="894" width="120" height="48"/><text x="6356" y="914">potassium<tspan x="6356" dy="17">channel complex</tspan></text></g>

<g id="n-synaptic-vesicle" class="n R"><rect x="157" y="1049" width="75" height="48"/><text x="194.5" y="1069">synaptic<tspan x="194.5" dy="17">vesicle</tspan></text></g>
<g id="n-synaptic-vesicle-membrane" class="n R"><rect x="1399" y="1049" width="125" height="48"/><text x="1461.5" y="1069">synaptic<tspan x="1461.5" dy="17">vesicle membrane</tspan></text></g>
<g id="n-intrinsic-component-of-postsynaptic-density-membrane" class="n Y"><rect x="3195" y="1033" width="127" height="80"/><text x="3258.5" y="1052">intrinsic<tspan x="3258.5" dy="17">component</tspan><tspan x="3258.5" dy="17">of postsynaptic</tspan><tspan x="3258.5" dy="17">density membrane</tspan></text></g>
<g id="n-integral-component-of-postsynaptic-specialization-membrane" class="n Y"><rect x="3925" y="1024.5" width="114" height="97"/><text x="3982" y="1043.5">integral<tspan x="3982" dy="17">component</tspan><tspan x="3982" dy="17">of postsynaptic</tspan><tspan x="3982" dy="17">specialization</tspan><tspan x="3982" dy="17">membrane</tspan></text></g>
<g id="n-voltage-gated-potassium-channel-complex" class="n Y"><rect x="5957" y="1041" width="120" height="64"/><text x="6017" y="1060.5">voltage-gated<tspan x="6017" dy="17">potassium</tspan><tspan x="6017" dy="17">channel complex</tspan></text></g>
</g>
</svg>
